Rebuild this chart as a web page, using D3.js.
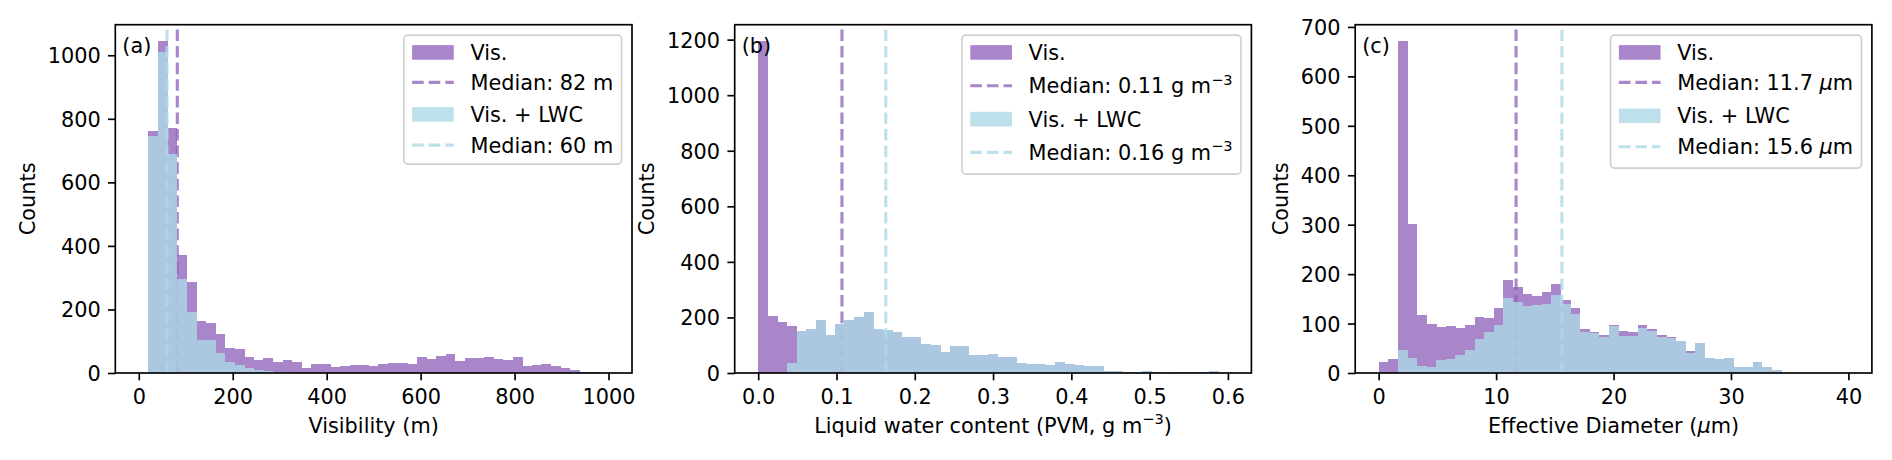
<!DOCTYPE html>
<html>
<head>
<meta charset="utf-8">
<script src="https://cdn.jsdelivr.net/npm/d3@7"></script>
<style>
  body { margin: 0; background: #fff; }
  svg text { font-family: "DejaVu Sans", sans-serif; }
</style>
</head>
<body>
<script>
// histogram counts, 49 bins each (bin edges span binRange of each panel)
var visCountsA = [0, 763, 1044, 770, 370, 286, 164, 157, 124, 80, 76, 50, 42, 46, 34, 41, 36, 17, 27, 27,
  19, 22, 24, 26, 21, 27, 33, 30, 27, 51, 45, 55, 60, 38, 47, 47, 51, 43, 42, 50,
  23, 25, 27, 21, 17, 8, 2, 4, 0];
var lwcCountsA = [0, 746, 1009, 689, 297, 191, 103, 103, 63, 35, 24, 17, 10, 5, 3, 2, 1, 0, 0, 0,
  0, 0, 0, 0, 0, 0, 0, 0, 0, 0, 0, 0, 0, 0, 0, 0, 0, 0, 0, 0,
  0, 0, 0, 0, 0, 0, 0, 0, 0];

var visCountsB = [1194, 206, 184, 170, 151, 158, 191, 136, 177, 191, 203, 219, 159, 155, 147, 128, 128, 104, 102, 77,
  98, 98, 63, 63, 69, 57, 57, 36, 33, 31, 30, 39, 32, 28, 24, 25, 7, 7, 5, 4,
  6, 2, 1, 4, 4, 4, 4, 6, 0];
var lwcCountsB = [0, 0, 0, 36, 151, 158, 191, 136, 177, 191, 203, 219, 159, 155, 147, 128, 128, 104, 102, 77,
  98, 98, 63, 63, 69, 57, 57, 36, 33, 31, 30, 39, 32, 28, 24, 25, 7, 7, 5, 4,
  6, 2, 1, 4, 4, 4, 4, 6, 0];

var visCountsC = [23, 28, 671, 302, 118, 100, 94, 96, 91, 98, 113, 111, 131, 188, 174, 160, 156, 163, 181, 148,
  131, 88, 82, 77, 98, 84, 83, 98, 88, 77, 73, 64, 45, 61, 30, 28, 31, 12, 13, 23,
  12, 7, 1, 0, 0, 0, 1, 0, 0];
var lwcCountsC = [0, 0, 46, 30, 15, 12, 27, 28, 36, 46, 69, 83, 98, 152, 144, 136, 137, 140, 157, 140,
  120, 82, 80, 73, 96, 75, 75, 92, 85, 73, 71, 64, 40, 61, 30, 28, 31, 12, 13, 23,
  12, 7, 1, 0, 0, 0, 0, 0, 0];

var medians = { a: [82, 60], b: [0.107, 0.163], c: [11.7, 15.6] };

var xTicksA = [0, 200, 400, 600, 800, 1000];
var xTicksB = [0, 0.1, 0.2, 0.3, 0.4, 0.5, 0.6];
var xTicksC = [0, 10, 20, 30, 40];
var yTicksA = [0, 200, 400, 600, 800, 1000];
var yTicksB = [0, 200, 400, 600, 800, 1000, 1200];
var yTicksC = [0, 100, 200, 300, 400, 500, 600, 700];

// text pieces: {t: text, sup: superscript, it: italic}
var legendA = [[{ t: "Vis." }], [{ t: "Median: 82 m" }], [{ t: "Vis. + LWC" }], [{ t: "Median: 60 m" }]];
var legendB = [[{ t: "Vis." }], [{ t: "Median: 0.11 g m" }, { t: "\u22123", sup: true }],
  [{ t: "Vis. + LWC" }], [{ t: "Median: 0.16 g m" }, { t: "\u22123", sup: true }]];
var legendC = [[{ t: "Vis." }], [{ t: "Median: 11.7 " }, { t: "\u03bc", it: true }, { t: "m" }],
  [{ t: "Vis. + LWC" }], [{ t: "Median: 15.6 " }, { t: "\u03bc", it: true }, { t: "m" }]];

var xLabelA = [{ t: "Visibility (m)" }];
var xLabelB = [{ t: "Liquid water content (PVM, g m" }, { t: "\u22123", sup: true }, { t: ")" }];
var xLabelC = [{ t: "Effective Diameter (" }, { t: "\u03bc", it: true }, { t: "m)" }];

var purple = "#9467bd", blue = "#add8e6";
var fs = 20.83; // 10pt at 150 dpi
var em = fs;

var W = 1892, H = 460;
var plotTop = 24.7, plotH = 348.3, plotW = 516.7;

var panels = [
  { key: "a", letter: "(a)", left: 115.3, vis: visCountsA, lwc: lwcCountsA, binRange: [0, 1000],
    xTicks: xTicksA, yTicks: yTicksA, fmt: d3.format("d"), legend: legendA, xLabel: xLabelA,
    rows: [17.3, 47.3, 79.3, 110], legH: 129 },
  { key: "b", letter: "(b)", left: 734.7, vis: visCountsB, lwc: lwcCountsB, binRange: [0, 0.6],
    xTicks: xTicksB, yTicks: yTicksB, fmt: d3.format(".1f"), legend: legendB, xLabel: xLabelB,
    rows: [17.3, 50.7, 84, 117.3], legH: 139 },
  { key: "c", letter: "(c)", left: 1355.2, vis: visCountsC, lwc: lwcCountsC, binRange: [0, 40],
    xTicks: xTicksC, yTicks: yTicksC, fmt: d3.format("d"), legend: legendC, xLabel: xLabelC,
    rows: [17.3, 47.3, 80.7, 111.7], legH: 133 }
];

var svg = d3.select("body").append("svg")
  .attr("width", W)
  .attr("height", H);

function richText(sel, pieces) {
  pieces.forEach(function (p, i) {
    var ts = sel.append("tspan").text(p.t);
    if (p.sup) {
      ts.attr("font-size", fs * 0.7).attr("dy", -0.42 * fs);
    } else if (i > 0 && pieces[i - 1].sup) {
      ts.attr("dy", 0.42 * fs);
    }
    if (p.it) ts.attr("font-style", "italic");
  });
}

panels.forEach(function (p) {
  var nb = p.vis.length;
  var lo = p.binRange[0], hi = p.binRange[1];
  var edges = d3.range(nb + 1).map(function (i) { return lo + (hi - lo) * i / nb; });
  var pad = (hi - lo) * 0.05;

  var x = d3.scaleLinear().domain([lo - pad, hi + pad]).range([0, plotW]);
  var ymax = d3.max(p.vis.concat(p.lwc)) * 1.05;
  var y = d3.scaleLinear().domain([0, ymax]).range([plotH, 0]);

  var g = svg.append("g").attr("transform", "translate(" + p.left + "," + plotTop + ")");

  function drawHist(counts, color) {
    g.append("g")
      .attr("opacity", 0.8)
      .selectAll("rect")
      .data(counts.map(function (c, i) { return { c: c, x0: edges[i], x1: edges[i + 1] }; })
        .filter(function (d) { return d.c > 0; }))
      .enter()
      .append("rect")
      .attr("x", function (d) { return x(d.x0); })
      .attr("width", function (d) { return x(d.x1) - x(d.x0) + 0.3; })
      .attr("y", function (d) { return y(d.c); })
      .attr("height", function (d) { return plotH - y(d.c); })
      .attr("fill", color)
      .attr("shape-rendering", "crispEdges");
  }

  function drawMedian(v, color) {
    g.append("line")
      .attr("x1", x(v)).attr("x2", x(v))
      .attr("y1", plotH).attr("y2", 0)
      .attr("stroke", color)
      .attr("stroke-opacity", 0.8)
      .attr("stroke-width", 3.1)
      .attr("stroke-dasharray", "11.6,5");
  }

  drawHist(p.vis, purple);
  drawMedian(medians[p.key][0], purple);
  drawHist(p.lwc, blue);
  drawMedian(medians[p.key][1], blue);

  // axes
  var xAxis = g.append("g")
    .attr("transform", "translate(0," + plotH + ")")
    .call(d3.axisBottom(x).tickValues(p.xTicks).tickFormat(p.fmt).tickSize(7.3).tickPadding(7.3));
  var yAxis = g.append("g")
    .call(d3.axisLeft(y).tickValues(p.yTicks).tickFormat(p.fmt === d3.format(".1f") ? d3.format("d") : p.fmt)
      .tickSize(7.3).tickPadding(7.3));
  if (p.key === "b") yAxis.selectAll(".tick text").text(function (d) { return d3.format("d")(d); });

  [xAxis, yAxis].forEach(function (ax) {
    ax.select(".domain").remove();
    ax.attr("font-size", null).attr("font-family", null);
    ax.selectAll(".tick line").attr("stroke", "#000").attr("stroke-width", 1.67);
    ax.selectAll(".tick text").attr("fill", "#000").style("font-size", fs + "px");
  });
  xAxis.selectAll(".tick text").attr("dy", "0.79em");
  yAxis.selectAll(".tick text").attr("dy", "0.36em");

  g.append("rect")
    .attr("width", plotW).attr("height", plotH)
    .attr("fill", "none").attr("stroke", "#000").attr("stroke-width", 1.67);

  // axis labels
  var xl = g.append("text")
    .attr("x", plotW / 2).attr("y", plotH + 60)
    .attr("text-anchor", "middle")
    .style("font-size", fs + "px");
  richText(xl, p.xLabel);

  var minX = d3.min(yAxis.selectAll(".tick text").nodes(), function (n) { return n.getBBox().x; });
  var ylx = minX - 8.3 - 4.5;
  g.append("text")
    .attr("transform", "translate(" + ylx + "," + plotH / 2 + ") rotate(-90)")
    .attr("text-anchor", "middle")
    .style("font-size", fs + "px")
    .text("Counts");

  // legend
  var leg = g.append("g");
  var box = leg.append("rect");
  var texts = [];
  p.legend.forEach(function (pieces, i) {
    var t = leg.append("text")
      .attr("y", p.rows[i] + 7.6)
      .style("font-size", fs + "px");
    richText(t, pieces);
    texts.push(t);
  });
  var maxW = d3.max(texts, function (t) { return t.node().getComputedTextLength(); });
  var legW = 0.4 * em + 2 * em + 0.8 * em + maxW + 0.4 * em;
  var legX = plotW - 0.5 * em - legW, legY = 0.5 * em;
  leg.attr("transform", "translate(" + legX + "," + legY + ")");
  box.attr("width", legW).attr("height", p.legH)
    .attr("rx", 4).attr("ry", 4)
    .attr("fill", "#fff").attr("fill-opacity", 0.8)
    .attr("stroke", "#cfcfcf").attr("stroke-width", 1.6);
  texts.forEach(function (t) { t.attr("x", 0.4 * em + 2.8 * em); });

  var hx = 0.4 * em, hw = 2 * em;
  [purple, blue].forEach(function (c, k) {
    leg.append("rect")
      .attr("x", hx).attr("width", hw)
      .attr("y", p.rows[2 * k] - 7.3).attr("height", 14.6)
      .attr("fill", c).attr("opacity", 0.8);
    leg.append("line")
      .attr("x1", hx).attr("x2", hx + hw)
      .attr("y1", p.rows[2 * k + 1]).attr("y2", p.rows[2 * k + 1])
      .attr("stroke", c).attr("stroke-opacity", 0.8)
      .attr("stroke-width", 3.1)
      .attr("stroke-dasharray", "11.6,5");
  });

  // panel letter
  g.append("text")
    .attr("x", 7).attr("y", 53 - plotTop + 0)
    .style("font-size", fs + "px")
    .text(p.letter);
});
</script>
</body>
</html>
